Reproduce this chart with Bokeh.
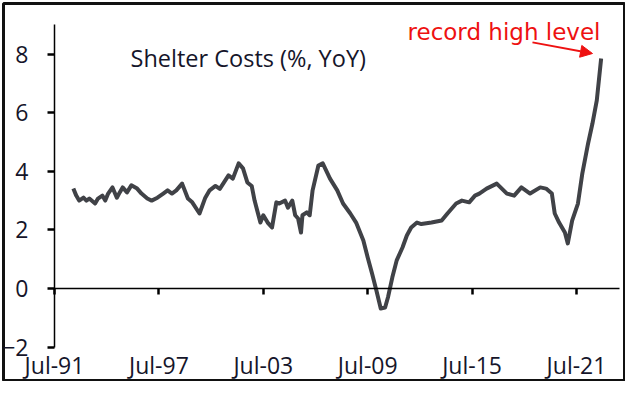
from bokeh.plotting import figure
from bokeh.models import Range1d, LinearAxis, FixedTicker, Label, Arrow, NormalHead
from bokeh.embed import file_html
from bokeh.resources import INLINE

# Shelter costs, % YoY
dates = [
    "1992-08", "1992-10", "1992-12", "1993-03", "1993-05", "1993-07", "1993-11",
    "1994-01", "1994-04", "1994-06", "1994-08", "1994-11", "1995-02", "1995-04",
    "1995-06", "1995-09", "1995-12", "1996-04", "1996-07", "1996-11", "1997-02",
    "1997-06", "1997-10", "1998-01", "1998-04", "1998-07", "1998-11", "1999-03",
    "1999-06", "1999-11", "2000-03", "2000-06", "2000-10", "2001-01", "2001-07",
    "2001-10", "2002-02", "2002-05", "2002-08", "2002-11", "2003-01", "2003-05",
    "2003-07", "2003-10", "2004-01", "2004-04", "2004-06", "2004-10", "2004-12",
    "2005-03", "2005-05", "2005-07", "2005-09", "2005-10", "2006-01", "2006-03",
    "2006-05", "2006-09", "2006-12", "2007-05", "2007-10", "2008-02", "2008-07",
    "2008-11", "2009-04", "2009-07", "2009-10", "2010-01", "2010-04", "2010-07",
    "2010-09", "2010-12", "2011-03", "2011-07", "2011-10", "2012-01", "2012-05",
    "2012-08", "2013-03", "2013-10", "2014-02", "2014-08", "2014-12", "2015-05",
    "2015-09", "2015-12", "2016-05", "2016-12", "2017-07", "2017-12", "2018-05",
    "2018-11", "2019-06", "2019-10", "2020-02", "2020-04", "2020-07", "2020-11",
    "2021-01", "2021-04", "2021-08", "2021-11", "2022-03", "2022-06", "2022-09",
    "2022-12",
]
values = [
    3.41, 3.17, 3.00, 3.10, 3.00, 3.07, 2.90,
    3.07, 3.17, 3.00, 3.24, 3.45, 3.10, 3.28,
    3.45, 3.28, 3.52, 3.41, 3.24, 3.07, 3.00,
    3.10, 3.24, 3.35, 3.24, 3.35, 3.58, 3.07,
    2.94, 2.56, 3.10, 3.35, 3.50, 3.40, 3.86,
    3.75, 4.27, 4.10, 3.62, 3.50, 3.00, 2.25,
    2.50, 2.25, 2.08, 2.94, 2.90, 3.00, 2.76,
    3.00, 2.50, 2.39, 1.91, 2.50, 2.60, 2.50,
    3.35, 4.20, 4.27, 3.75, 3.35, 2.90, 2.56,
    2.25, 1.64, 1.06, 0.51, -0.07, -0.68, -0.65,
    -0.30, 0.38, 0.96, 1.40, 1.81, 2.08, 2.25,
    2.20, 2.25, 2.32, 2.56, 2.90, 3.00, 2.94,
    3.17, 3.24, 3.41, 3.58, 3.24, 3.17, 3.45,
    3.24, 3.45, 3.41, 3.24, 2.56, 2.25, 1.91,
    1.54, 2.32, 2.90, 3.92, 4.95, 5.63, 6.42,
    7.85,
]
tick_years = [1991, 1997, 2003, 2009, 2015, 2021]
tick_labels = ["Jul-91", "Jul-97", "Jul-03", "Jul-09", "Jul-15", "Jul-21"]
y_ticks = [-2, 0, 2, 4, 6, 8]
title_text = "Shelter Costs (%, YoY)"
note_text = "record high level"


def to_dec(s):
    y, m = s.split("-")
    return int(y) + (int(m) - 1) / 12.0


xs = [to_dec(d) for d in dates]
tick_pos = [y + 0.5 for y in tick_years]

FONT = "Open Sans"
TXT = "#15152a"
RED = "#ee1111"

W, H = 625, 381
p = figure(width=W, height=H, output_backend="svg", toolbar_location=None,
           x_range=Range1d(1988.569, 2024.259), y_range=Range1d(-3.140, 9.727),
           x_axis_type=None, y_axis_type=None,
           min_border_left=3, min_border_right=1,
           min_border_top=3, min_border_bottom=1)
p.outline_line_color = "#111111"
p.outline_line_width = 3
p.background_fill_color = "white"
p.border_fill_color = "white"

# x axis line at zero with downward ticks (no labels)
xline = LinearAxis(fixed_location=0, bounds=(1991.5, 2024.0),
                   ticker=FixedTicker(ticks=tick_pos),
                   major_label_overrides={pos: "" for pos in tick_pos})
xline.axis_line_color = "black"
xline.axis_line_width = 1.3
xline.major_tick_out = 6
xline.major_tick_in = 0
xline.major_tick_line_width = 2.5
xline.major_tick_line_color = "black"
xline.minor_tick_line_color = None
xline.major_label_text_font_size = "0px"
p.add_layout(xline, "below")

# x tick labels under the plot
xlab = LinearAxis(fixed_location=-2, ticker=FixedTicker(ticks=tick_pos),
                  major_label_overrides={pos: lab for pos, lab in zip(tick_pos, tick_labels)})
xlab.axis_line_color = None
xlab.major_tick_line_color = None
xlab.minor_tick_line_color = None
xlab.major_tick_out = 0
xlab.major_tick_in = 0
xlab.major_label_standoff = 2
xlab.major_label_text_font = FONT
xlab.major_label_text_font_size = "23px"
xlab.major_label_text_color = TXT
p.add_layout(xlab, "below")

yaxis = LinearAxis(fixed_location=1991.5, bounds=(-2, 9), ticker=FixedTicker(ticks=y_ticks))
yaxis.axis_line_color = "black"
yaxis.axis_line_width = 1.5
yaxis.major_tick_out = 7
yaxis.major_tick_in = 0
yaxis.major_tick_line_width = 2.5
yaxis.major_tick_line_color = "black"
yaxis.minor_tick_line_color = None
yaxis.major_label_standoff = 19
yaxis.major_label_text_font = FONT
yaxis.major_label_text_font_size = "23px"
yaxis.major_label_text_color = TXT
p.add_layout(yaxis, "left")

p.line(xs, values, line_color="#404247", line_width=4, line_join="round")

p.add_layout(Label(x=1995.87, y=7.85, text=title_text, text_font=FONT,
                   text_font_size="23.5px", text_color=TXT, text_baseline="middle"))
p.add_layout(Label(x=2011.79, y=8.74, text=note_text, text_font="DejaVu Sans",
                   text_font_size="23px", text_color=RED, text_baseline="middle"))
p.add_layout(Arrow(end=NormalHead(size=12, fill_color=RED, line_color=RED),
                   x_start=2018.97, y_start=8.40, x_end=2022.42, y_end=8.02,
                   line_color=RED, line_width=2))

open("out.html", "w").write(file_html(p, INLINE))
